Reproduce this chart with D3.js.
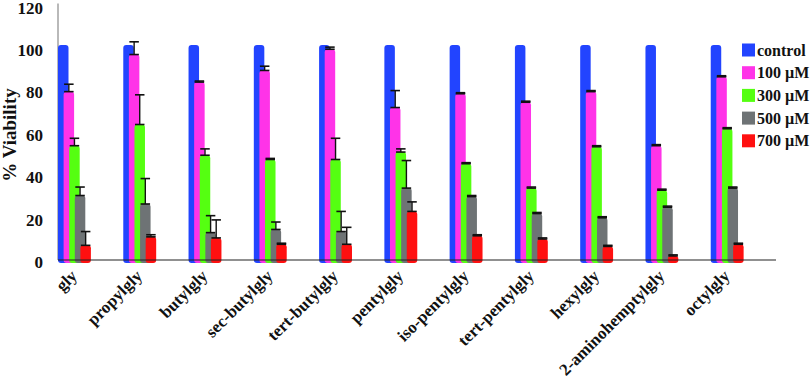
<!DOCTYPE html>
<html>
<head>
<meta charset="utf-8">
<script src="https://cdn.jsdelivr.net/npm/d3@7"></script>
<style>
  body { margin: 0; background: #fff; }
  text { font-family: "Liberation Serif", serif; font-weight: bold; }
</style>
</head>
<body>
<div class="chart"></div>
<script>
// data
var categories = ["gly", "propylgly", "butylgly", "sec-butylgly", "tert-butylgly", "pentylgly",
    "iso-pentylgly", "tert-pentylgly", "hexylgly", "2-aminohemptylgly", "octylgly"];
var seriesNames = ["control", "100 µM", "300 µM", "500 µM", "700 µM"];

var control = [100, 100, 100, 100, 100, 100, 100, 100, 100, 100, 100];
var v100 = [78, 95.5, 82.5, 88, 98, 70.5, 77, 73, 78, 52.5, 85];
var v300 = [52.5, 62.5, 48, 46, 46, 49.5, 44, 32.5, 52, 31.5, 60.5];
var v500 = [29, 25, 11.5, 13, 12, 32.5, 28.5, 20.5, 18.5, 23.5, 32.5];
var v700 = [5.5, 9.5, 9, 6, 6, 21.5, 10, 8.5, 5, 0.5, 6];

var eControl = [0, 0, 0, 0, 0, 0, 0, 0, 0, 0, 0];
var e100 = [3.5, 6, 0.5, 2, 1, 8, 0.5, 0.5, 0.5, 0.5, 0.5];
var e300 = [3.5, 14, 3, 0.5, 10, 1.5, 0.5, 0.5, 0.5, 0.5, 0.5];
var e500 = [4, 12, 8, 3.5, 9.5, 13, 0.5, 0.5, 0.5, 0.5, 0.5];
var e700 = [6.5, 1, 8.5, 0.5, 8, 4.5, 0.5, 0.5, 0.5, 0.5, 0.5];

var yTicks = [0, 20, 40, 60, 80, 100, 120];

var values = [control, v100, v300, v500, v700];
var errors = [eControl, e100, e300, e500, e700];
var colors = ["#2244ff", "#ff33e8", "#55ff11", "#6e7375", "#ff1010"];

var width = 810, height = 380;

var svg = d3.select(".chart").append("svg")
    .attr("width", width)
    .attr("height", height);

var x = d3.scaleBand().domain(categories).range([58, 776]).paddingInner(0).paddingOuter(0);
var y = d3.scaleLinear().domain([0, 120]).range([260, 5.6]);

var barW = 10.5, barStep = 5.6, ext = 3;

// y axis (no ticks, just labels)
svg.append("line")
    .attr("x1", 58).attr("x2", 58)
    .attr("y1", y(120) - 2).attr("y2", y(0))
    .attr("stroke", "#8a8a8a").attr("stroke-width", 1.2);

svg.selectAll(".ytick")
    .data(yTicks)
    .enter().append("text")
    .attr("class", "ytick")
    .attr("x", 43)
    .attr("y", function (d) { return y(d) + 2.5; })
    .attr("text-anchor", "end")
    .attr("dominant-baseline", "central")
    .attr("fill", "#111")
    .style("font-size", "17px")
    .text(function (d) { return d; });

svg.append("text")
    .attr("transform", "translate(16,135) rotate(-90)")
    .attr("text-anchor", "middle")
    .attr("fill", "#111")
    .style("font-size", "19px")
    .text("% Viability");

// bars
seriesNames.forEach(function (s, si) {
    var g = svg.append("g");
    g.selectAll("rect")
        .data(categories)
        .enter().append("rect")
        .attr("x", function (d) { return x(d) + si * barStep; })
        .attr("y", function (d, i) { return y(values[si][i]) - ext; })
        .attr("width", barW)
        .attr("height", function (d, i) { return y(0) - y(values[si][i]) + ext * 2; })
        .attr("rx", 3)
        .attr("fill", colors[si]);

    if (si > 0) {
        var eb = svg.append("g").attr("stroke", "#111");
        categories.forEach(function (c, i) {
            var cx = x(c) + si * barStep + barW / 2;
            var top = y(values[si][i] + errors[si][i]) - ext;
            var bot = y(values[si][i]) - ext;
            eb.append("line").attr("x1", cx).attr("x2", cx).attr("y1", top).attr("y2", bot).attr("stroke-width", 1.4);
            eb.append("line").attr("x1", cx - barW / 2 + 0.5).attr("x2", cx + barW / 2 - 0.5)
                .attr("y1", top).attr("y2", top).attr("stroke-width", 1.6);
            eb.append("line").attr("x1", cx - barW / 2 + 0.5).attr("x2", cx + barW / 2 - 0.5)
                .attr("y1", bot).attr("y2", bot).attr("stroke-width", 1.6);
        });
    }
});

// x axis
svg.append("line")
    .attr("x1", 58).attr("x2", 776)
    .attr("y1", y(0)).attr("y2", y(0))
    .attr("stroke", "#222").attr("stroke-width", 1.2);

svg.selectAll(".xlab")
    .data(categories)
    .enter().append("text")
    .attr("class", "xlab")
    .attr("text-anchor", "end")
    .attr("fill", "#111")
    .attr("transform", function (d) { return "translate(" + (x(d) + 20) + ",277) rotate(-45)"; })
    .style("font-size", "17px")
    .text(function (d) { return d; });

// legend
var legend = svg.append("g").attr("transform", "translate(742,50)");
seriesNames.forEach(function (s, i) {
    legend.append("rect")
        .attr("x", 0).attr("y", i * 22.7 - 6.5)
        .attr("width", 13).attr("height", 13)
        .attr("fill", colors[i]);
    legend.append("text")
        .attr("x", 15).attr("y", i * 22.7)
        .attr("dominant-baseline", "central")
        .attr("fill", "#111")
        .style("font-size", "16px")
        .text(s);
});
</script>
</body>
</html>
